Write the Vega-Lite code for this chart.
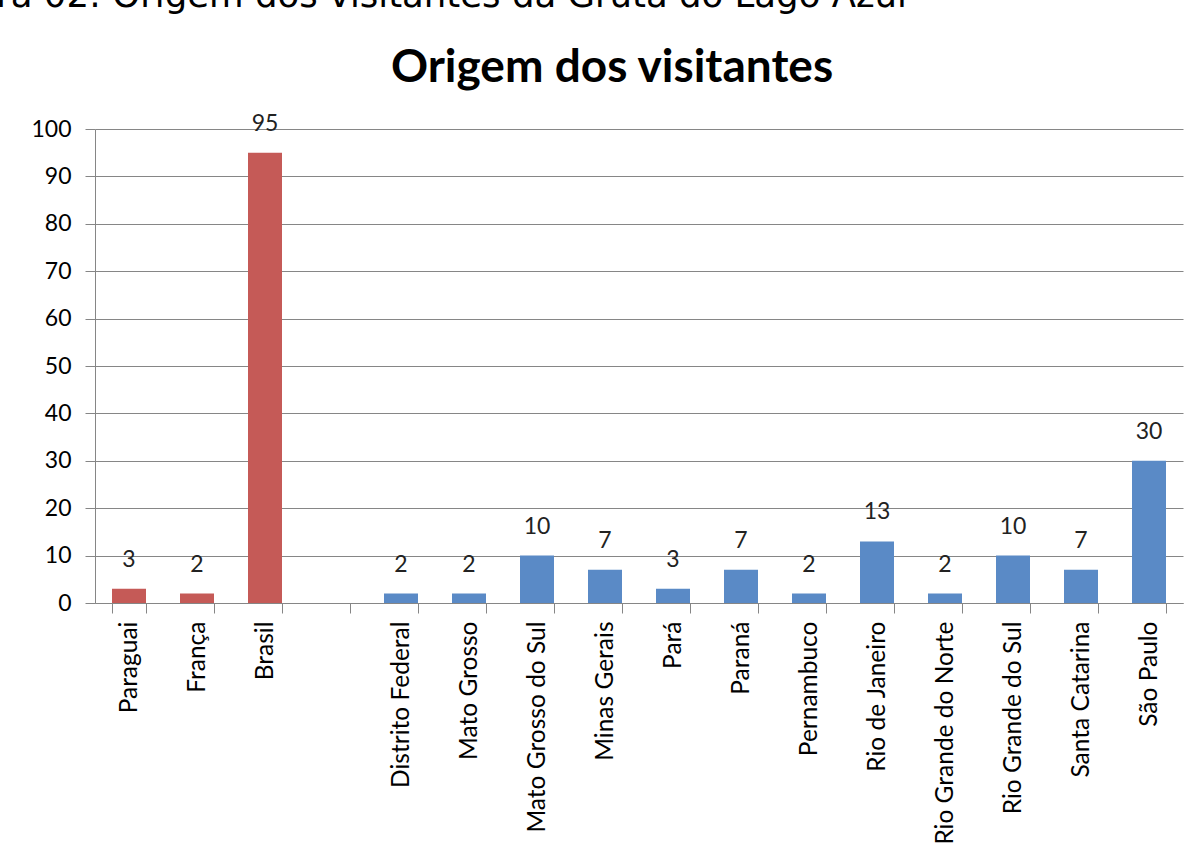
{
  "$schema": "https://vega.github.io/schema/vega-lite/v6.json",
  "autosize": "none",
  "width": 1088,
  "height": 474,
  "padding": {"left": 95, "top": 129, "right": 17, "bottom": 258},
  "background": "white",
  "title": {
    "text": "Origem dos visitantes",
    "anchor": "middle",
    "frame": "group",
    "font": "Lato",
    "fontWeight": "bold",
    "fontSize": 46,
    "color": "black",
    "baseline": "alphabetic",
    "offset": 0,
    "dy": 150,
    "dx": -27
  },
  "data": {
    "values": [
      {"origem": "Paraguai", "grupo": "País", "visitantes": 3},
      {"origem": "França", "grupo": "País", "visitantes": 2},
      {"origem": "Brasil", "grupo": "País", "visitantes": 95},
      {"origem": "Distrito Federal", "grupo": "Estado", "visitantes": 2},
      {"origem": "Mato Grosso", "grupo": "Estado", "visitantes": 2},
      {"origem": "Mato Grosso do Sul", "grupo": "Estado", "visitantes": 10},
      {"origem": "Minas Gerais", "grupo": "Estado", "visitantes": 7},
      {"origem": "Pará", "grupo": "Estado", "visitantes": 3},
      {"origem": "Paraná", "grupo": "Estado", "visitantes": 7},
      {"origem": "Pernambuco", "grupo": "Estado", "visitantes": 2},
      {"origem": "Rio de Janeiro", "grupo": "Estado", "visitantes": 13},
      {"origem": "Rio Grande do Norte", "grupo": "Estado", "visitantes": 2},
      {"origem": "Rio Grande do Sul", "grupo": "Estado", "visitantes": 10},
      {"origem": "Santa Catarina", "grupo": "Estado", "visitantes": 7},
      {"origem": "São Paulo", "grupo": "Estado", "visitantes": 30}
    ]
  },
  "encoding": {
    "x": {
      "field": "origem",
      "type": "nominal",
      "sort": null,
      "scale": {
        "domain": ["Paraguai", "França", "Brasil", " ", "Distrito Federal", "Mato Grosso", "Mato Grosso do Sul", "Minas Gerais", "Pará", "Paraná", "Pernambuco", "Rio de Janeiro", "Rio Grande do Norte", "Rio Grande do Sul", "Santa Catarina", "São Paulo"],
        "paddingInner": 0.5,
        "paddingOuter": 0.25
      },
      "axis": {
        "title": null,
        "tickBand": "extent",
        "labelAngle": -90,
        "labelAlign": "right",
        "labelBaseline": "middle",
        "labelFont": "Lato",
        "labelFontSize": 24.5,
        "labelColor": "black",
        "labelPadding": 8,
        "labelLimit": 400,
        "tickSize": 10,
        "tickColor": "#868686",
        "domainColor": "#868686",
        "grid": false
      }
    },
    "y": {
      "field": "visitantes",
      "type": "quantitative",
      "scale": {"domain": [0, 100]},
      "axis": {
        "values": [0, 10, 20, 30, 40, 50, 60, 70, 80, 90, 100],
        "title": "Figura 02: Origem dos visitantes da Gruta do Lago Azul",
        "titleAngle": 0,
        "titleAlign": "left",
        "titleBaseline": "alphabetic",
        "titleX": -172,
        "titleY": -123,
        "titleFont": "DejaVu Sans",
        "titleFontWeight": "normal",
        "titleFontSize": 35.5,
        "titleColor": "black",
        "labelFont": "Lato",
        "labelFontSize": 23,
        "labelColor": "black",
        "labelPadding": 14,
        "tickSize": 10,
        "tickColor": "#868686",
        "domainColor": "#868686",
        "gridColor": "#868686",
        "grid": true
      }
    }
  },
  "layer": [
    {
      "mark": {"type": "bar"},
      "encoding": {
        "color": {
          "field": "grupo",
          "type": "nominal",
          "scale": {"domain": ["País", "Estado"], "range": ["#C55A57", "#5A8AC6"]},
          "legend": null
        }
      }
    },
    {
      "mark": {"type": "text", "baseline": "bottom", "dy": -17, "font": "Lato", "fontSize": 23, "color": "#222222"},
      "encoding": {
        "text": {"field": "visitantes", "type": "quantitative"}
      }
    }
  ],
  "config": {
    "view": {"stroke": null}
  }
}
